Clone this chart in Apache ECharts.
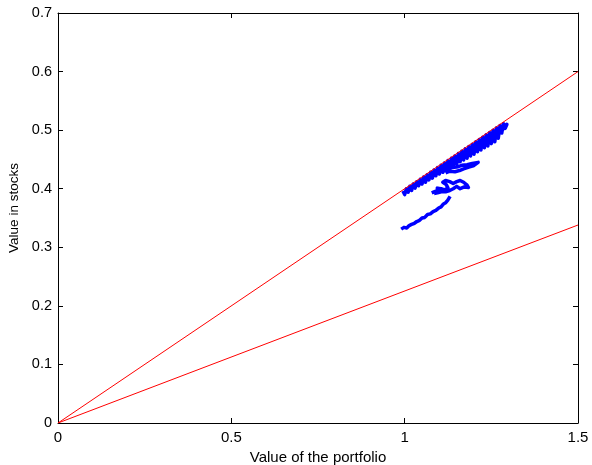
<!DOCTYPE html>
<html>
<head>
<meta charset="utf-8">
<script src="https://cdn.jsdelivr.net/npm/echarts@6/dist/echarts.min.js"></script>
<style>html,body{margin:0;padding:0;background:#fff}#c{width:592px;height:465px}</style>
</head>
<body>
<div id="c"></div>
<script>
var xTicks = [0, 0.5, 1, 1.5];
var yTicks = [0, 0.1, 0.2, 0.3, 0.4, 0.5, 0.6, 0.7];
var redUpper = [[0, 0], [1.5, 0.6]];
var redLower = [[0, 0], [1.5, 0.338]];
var bottomStrand = [[0.990,0.331],[0.998,0.334],[1.006,0.333],[1.013,0.337],[1.020,0.339],[1.028,0.341],[1.035,0.344],[1.043,0.346],[1.050,0.350],[1.058,0.351],[1.066,0.356],[1.074,0.357],[1.082,0.361],[1.090,0.363],[1.098,0.367],[1.105,0.369],[1.112,0.374],[1.118,0.376],[1.124,0.380],[1.128,0.383],[1.131,0.387]];
var middleBlob = [[1.078,0.393],[1.090,0.396],[1.100,0.399],[1.094,0.401],[1.105,0.400],[1.115,0.398],[1.125,0.401],[1.120,0.407],[1.110,0.411],[1.118,0.414],[1.130,0.412],[1.140,0.409],[1.150,0.412],[1.160,0.414],[1.170,0.411],[1.180,0.406],[1.184,0.402],[1.172,0.403],[1.160,0.400],[1.150,0.404],[1.140,0.400],[1.130,0.397],[1.120,0.395],[1.108,0.395],[1.095,0.393],[1.085,0.392]];
var spikeStrand = [[1.105,0.428],[1.120,0.432],[1.135,0.436],[1.150,0.437],[1.165,0.440],[1.180,0.441],[1.195,0.443],[1.212,0.445],[1.198,0.439],[1.185,0.437],[1.170,0.434],[1.158,0.431],[1.145,0.429],[1.130,0.430],[1.118,0.427]];
var upperBand = [[0.995,0.396],[1.000,0.390],[1.005,0.400],[1.010,0.394],[1.015,0.404],[1.020,0.397],[1.025,0.408],[1.030,0.401],[1.035,0.412],[1.040,0.405],[1.045,0.416],[1.050,0.408],[1.055,0.420],[1.060,0.411],[1.065,0.424],[1.070,0.415],[1.075,0.428],[1.080,0.418],[1.085,0.432],[1.090,0.422],[1.095,0.436],[1.100,0.425],[1.105,0.440],[1.110,0.428],[1.115,0.444],[1.120,0.432],[1.125,0.448],[1.130,0.435],[1.135,0.452],[1.140,0.439],[1.145,0.456],[1.150,0.442],[1.155,0.460],[1.160,0.446],[1.165,0.464],[1.170,0.449],[1.175,0.468],[1.180,0.452],[1.185,0.472],[1.190,0.456],[1.195,0.476],[1.200,0.459],[1.205,0.480],[1.210,0.463],[1.215,0.484],[1.220,0.466],[1.225,0.488],[1.230,0.470],[1.235,0.492],[1.240,0.473],[1.245,0.496],[1.250,0.477],[1.255,0.500],[1.260,0.480],[1.265,0.504],[1.270,0.486],[1.275,0.508],[1.280,0.495],[1.285,0.511],[1.290,0.503],[1.295,0.510],[1.292,0.506]];
var bandReturn = [[1.288,0.507],[1.278,0.500],[1.268,0.495],[1.258,0.491],[1.248,0.487],[1.238,0.483],[1.228,0.479],[1.218,0.475],[1.208,0.471],[1.198,0.467],[1.188,0.463],[1.178,0.459],[1.168,0.455],[1.158,0.451],[1.148,0.448],[1.138,0.444],[1.128,0.440],[1.118,0.437],[1.108,0.433],[1.098,0.429],[1.088,0.426],[1.078,0.422],[1.068,0.418],[1.058,0.414],[1.048,0.411],[1.038,0.407],[1.028,0.404],[1.018,0.400],[1.008,0.396],[0.998,0.393]];

var bluePath = bottomStrand.concat([[null, null]], middleBlob, [[null, null]], spikeStrand, [[null, null]], upperBand, bandReturn);

var chart = echarts.init(document.getElementById('c'));
var font = 'Liberation Sans, Arial, Helvetica, sans-serif';
var axisCommon = {
  type: 'value',
  axisLine: { show: true, onZero: false, lineStyle: { color: '#000', width: 1 } },
  axisTick: { show: true, inside: true, length: 5, lineStyle: { color: '#000' } },
  splitLine: { show: false }
};
chart.setOption({
  animation: false,
  backgroundColor: '#fff',
  grid: { left: 58, right: 14, top: 13, bottom: 42, containLabel: false, outerBoundsMode: 'none' },
  xAxis: [
    Object.assign({}, axisCommon, {
      min: 0, max: 1.5, interval: 0.5, position: 'bottom',
      name: 'Value of the portfolio', nameLocation: 'middle', nameGap: 25,
      nameTextStyle: { fontFamily: font, fontSize: 15, color: '#000' },
      axisLabel: { margin: 7, fontFamily: font, fontSize: 15, color: '#000',
        formatter: function (v) { return String(v); } }
    }),
    Object.assign({}, axisCommon, {
      min: 0, max: 1.5, interval: 0.5, position: 'top', axisLabel: { show: false }
    })
  ],
  yAxis: [
    Object.assign({}, axisCommon, {
      min: 0, max: 0.7, interval: 0.1, position: 'left',
      name: 'Value in stocks', nameLocation: 'middle', nameGap: 36,
      nameTextStyle: { fontFamily: font, fontSize: 13.5, color: '#000', padding: [0, 0, 0, 20] },
      axisLabel: { margin: 6, fontFamily: font, fontSize: 14.5, color: '#000',
        formatter: function (v) { return String(Math.round(v * 10) / 10); } }
    }),
    Object.assign({}, axisCommon, {
      min: 0, max: 0.7, interval: 0.1, position: 'right', axisLabel: { show: false }
    })
  ],
  series: [
    { type: 'line', data: redUpper, symbol: 'none', lineStyle: { color: '#ff0000', width: 1 }, z: 3 },
    { type: 'line', data: redLower, symbol: 'none', lineStyle: { color: '#ff0000', width: 1 }, z: 3 },
    { type: 'line', data: bluePath, symbol: 'none', connectNulls: false, lineStyle: { color: '#0000ff', width: 3.5, join: 'round' }, z: 2 }
  ]
});
</script>
</body>
</html>
